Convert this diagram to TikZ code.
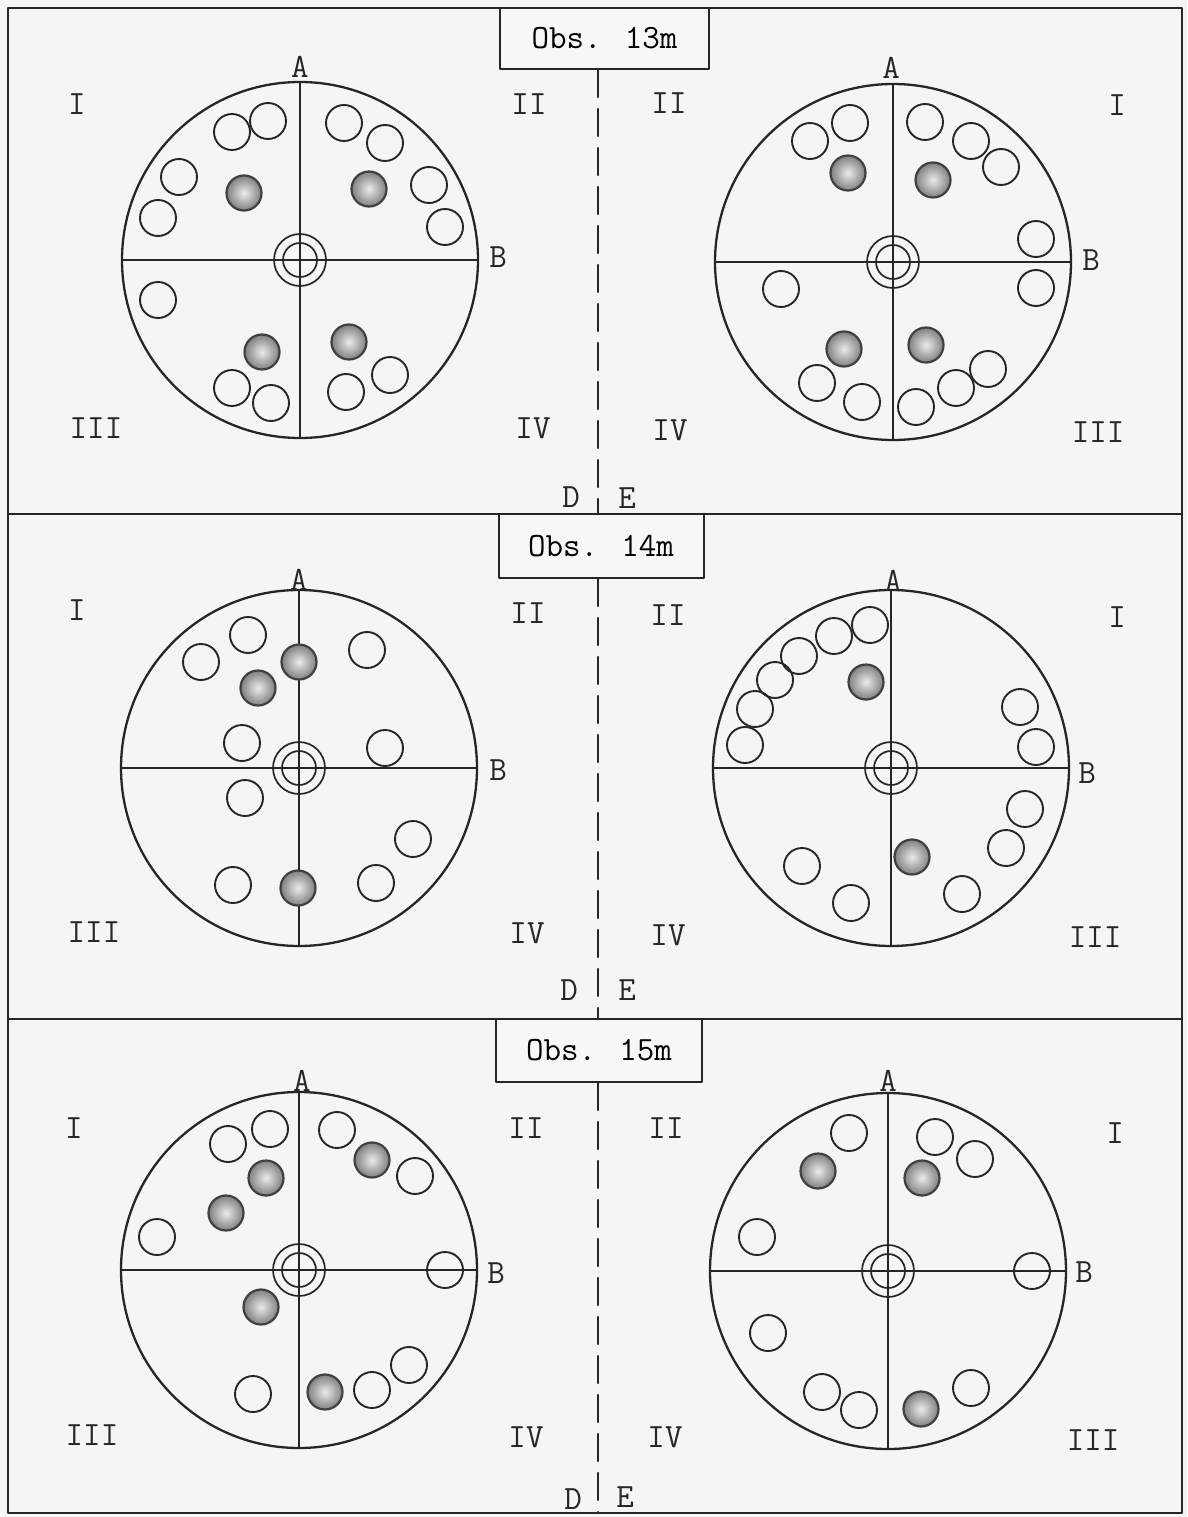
\documentclass[tikz,border=0pt]{standalone}
\begin{document}
\begin{tikzpicture}[x=1pt,y=-1pt,line join=round,line cap=round,
		font=\ttfamily\fontsize{34}{34}\selectfont,
		disc/.style={draw=black!85,line width=2.3pt},
		openhole/.style={draw=black!85,line width=1.9pt},
		fullhole/.style={draw=black!75,line width=2.2pt,inner color=black!8,outer color=black!50},
		obsbox/.style={draw=black!85,line width=2pt,fill=black!3,inner sep=0pt},
		cutline/.style={draw=black!85,line width=2.4pt,dash pattern=on 27pt off 12pt},
		lbl/.style={inner sep=0pt,text=black!85}]
	\useasboundingbox[fill=black!4] (0,0) rectangle (1187,1517);
	\path (8,514) coordinate (L1) (1182,514) coordinate (R1)
	(8,1019) coordinate (L2) (1182,1019) coordinate (R2)
	(598,514) coordinate (cut1) (598,1019) coordinate (cut2) (598,1513) coordinate (cut3);
	\draw[line width=2.6pt,black!85] (8,8) rectangle (1182,1513) (L1)--(R1) (L2)--(R2);
	\node[obsbox,minimum width=209pt,minimum height=61pt] (obs13) at (604.5,38.5) {Obs. 13m};
	\node[obsbox,minimum width=205pt,minimum height=64pt] (obs14) at (601,546) {Obs. 14m};
	\node[obsbox,minimum width=206pt,minimum height=63pt] (obs15) at (599,1050.5) {Obs. 15m};
	\draw[cutline] (obs13.south -| cut1)--(cut1) (obs14.south -| cut2)--(cut2) (obs15.south -| cut3)--(cut3);
	\foreach \o/\x/\y in {O1/300/260,O2/893/262,O3/299/768,O4/891/768,O5/299/1270,O6/888/1271}{
		\coordinate (\o) at (\x,\y);
		\draw[disc] (\o) circle (178pt);
		\draw[disc,line width=1.9pt] (\o) ++(0,-178) -- ++(0,356) (\o) ++(-178,0) -- ++(356,0);
		\draw[disc,line width=1.7pt] (\o) circle (26pt) (\o) circle (17pt);
	}
	\foreach \x/\y in {232/132,268/121,179/177,158/218,344/123,385/143,429/185,445/227,158/300,232/388,271/403,346/392,390/375,
		810/141,850/123,925/122,971/141,1001/167,1036/239,1036/288,781/289,817/383,862/402,916/407,956/388,988/369,
		248/635,201/662,367/650,242/743,385/748,245/798,413/839,233/885,376/883,
		870/625,834/636,799/656,775/680,755/709,745/745,1020/707,1036/747,1025/809,1006/848,962/894,851/903,802/866,
		228/1144,270/1129,157/1237,337/1130,415/1176,445/1270,253/1394,372/1390,409/1365,
		849/1133,935/1137,975/1159,757/1237,1032/1271,768/1333,822/1392,859/1410,971/1388}
	{\draw[openhole] (\x,\y) circle (18pt);}
	\foreach \x/\y in {244/193,369/189,262/352,349/342,848/173,933/180,844/349,926/345,
		299/662,258/688,298/888,866/682,912/857,
		266/1178,226/1213,372/1160,261/1307,325/1392,818/1171,922/1178,921/1409}
	{\draw[fullhole] (\x,\y) circle (17.5pt);}
	\foreach \n/\x/\y/\t in {l1I/77/104/I,l1II/529/104/II,l1III/96/428/III,l1IV/533/428/IV,l1A/300/67/A,l1B/498/257/B,l1D/571/497/D,
		r1II/669/103/II,r1I/1117/105/I,r1IV/670/430/IV,r1III/1098/432/III,r1A/891/68/A,r1B/1091/260/B,r1E/627/498/E,
		l2I/77/610/I,l2II/528/613/II,l2III/94/932/III,l2IV/527/933/IV,l2A/299/580/A,l2B/498/770/B,l2D/569/990/D,
		r2II/668/615/II,r2I/1117/617/I,r2IV/668/935/IV,r2III/1095/937/III,r2A/893/581/A,r2B/1087/773/B,r2E/627/990/E,
		l3I/74/1128/I,l3II/526/1128/II,l3III/92/1435/III,l3IV/526/1437/IV,l3A/302/1081/A,l3B/496/1273/B,l3D/573/1499/D,
		r3II/666/1128/II,r3I/1115/1133/I,r3IV/665/1437/IV,r3III/1093/1440/III,r3A/888/1081/A,r3B/1084/1272/B,r3E/625/1497/E}
	{\node[lbl] (\n) at (\x,\y) {\t};}
\end{tikzpicture}
\end{document}
